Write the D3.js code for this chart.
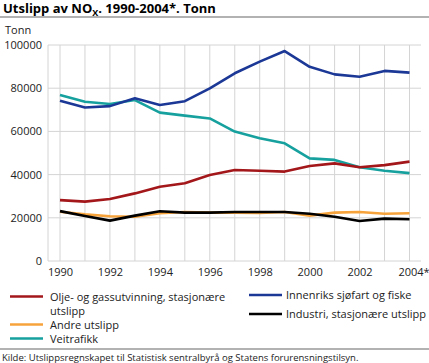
<!DOCTYPE html>
<html><head><meta charset="utf-8">
<script src="https://cdn.jsdelivr.net/npm/d3@7"></script>
<style>body{margin:0;background:#fff}svg{display:block;font-family:"Open Sans",sans-serif}</style>
</head><body><svg id="c" width="429" height="363"></svg>
<script>
const years = [1990,1991,1992,1993,1994,1995,1996,1997,1998,1999,2000,2001,2002,2003,2004];
const xTickLabels = ["1990","1992","1994","1996","1998","2000","2002","2004*"];
const yTicks = [0,20000,40000,60000,80000,100000];
const olje = [28200,27500,28700,31300,34400,36000,39800,42100,41800,41400,44000,45200,43400,44400,46000];
const andre = [22800,21600,20700,20500,22100,22700,22400,22400,22200,22700,21000,22400,22700,21900,22100];
const veitrafikk = [76800,73700,72700,74500,68700,67300,66000,59900,56800,54500,47500,46800,43400,41800,40700];
const innenriks = [74200,71100,71700,75300,72200,74000,79900,86900,92300,97200,89900,86400,85300,88000,87200];
const industri = [23100,20800,18700,21000,23000,22400,22400,22700,22700,22700,21900,20500,18500,19600,19300];
const series = [
  {name:"Olje- og gassutvinning, stasjonære utslipp", values:olje, color:"#a3171b"},
  {name:"Andre utslipp", values:andre, color:"#f7a33c"},
  {name:"Veitrafikk", values:veitrafikk, color:"#16a09e"},
  {name:"Innenriks sjøfart og fiske", values:innenriks, color:"#1c3896"},
  {name:"Industri, stasjonære utslipp", values:industri, color:"#000000"}
];
const svg = d3.select("#c");
const x = d3.scaleLinear().domain([1990,2004]).range([60,409.5]);
const y = d3.scaleLinear().domain([0,100000]).range([261,45]);
const L=48, R=421;
// title
const t = svg.append("text").attr("x",3).attr("y",13).attr("font-size",13).attr("font-weight","bold").attr("fill","#000");
t.append("tspan").text("Utslipp av NO");
t.append("tspan").attr("font-size",9).attr("dy",3).text("X");
t.append("tspan").attr("dy",-3).text(". 1990-2004*. Tonn");
svg.append("line").attr("x1",0).attr("x2",429).attr("y1",17).attr("y2",17).attr("stroke","#999").attr("stroke-width",1.5);
svg.append("text").attr("x",5).attr("y",34).attr("font-size",11).attr("fill","#222").text("Tonn");
// grid
const g = svg.append("g");
years.forEach(yr=>g.append("line").attr("x1",x(yr)).attr("x2",x(yr)).attr("y1",y(100000)).attr("y2",y(0)).attr("stroke","#d4d4d4").attr("stroke-width",1));
yTicks.forEach(v=>g.append("line").attr("x1",L).attr("x2",R).attr("y1",y(v)).attr("y2",y(v)).attr("stroke","#d4d4d4").attr("stroke-width",1));
g.append("line").attr("x1",L).attr("x2",L).attr("y1",y(100000)).attr("y2",y(0)).attr("stroke","#d4d4d4");
// y axis labels
const yAxis = d3.axisLeft(y).tickValues(yTicks).tickSize(0).tickPadding(6).tickFormat(d3.format("d"));
const ya = svg.append("g").attr("transform",`translate(${L},0)`).call(yAxis);
ya.select(".domain").remove();
ya.selectAll("text").attr("font-size",11).attr("fill","#222").attr("font-family","'Open Sans',sans-serif");
// x axis labels
const xAxis = d3.axisBottom(x).tickValues(d3.range(1990,2005,2)).tickSize(0).tickPadding(7).tickFormat((d,i)=>xTickLabels[i]);
const xa = svg.append("g").attr("transform",`translate(0,${y(0)})`).call(xAxis);
xa.select(".domain").remove();
xa.selectAll("text").attr("font-size",11).attr("fill","#222").attr("font-family","'Open Sans',sans-serif");
xa.selectAll("text").filter((d,i)=>i===xTickLabels.length-1).attr("dx",4);
// lines
const line = d3.line().x((d,i)=>x(years[i])).y(d=>y(d));
const order = [2,3,0,1,4];
order.forEach(k=>{
  const s=series[k];
  svg.append("path").attr("d",line(s.values)).attr("fill","none").attr("stroke",s.color).attr("stroke-width",2.6).attr("stroke-linejoin","round");
});
// legend
const leg = [
  {s:0,lx:10,ly:296.5,tx:50,lines:["Olje- og gassutvinning, stasjonære","utslipp"]},
  {s:1,lx:10,ly:324.5,tx:50,lines:["Andre utslipp"]},
  {s:2,lx:10,ly:338.5,tx:50,lines:["Veitrafikk"]},
  {s:3,lx:249,ly:295,tx:286,lines:["Innenriks sjøfart og fiske"]},
  {s:4,lx:249,ly:314,tx:286,lines:["Industri, stasjonære utslipp"]}
];
leg.forEach(o=>{
  svg.append("line").attr("x1",o.lx).attr("x2",o.lx+33).attr("y1",o.ly).attr("y2",o.ly).attr("stroke",series[o.s].color).attr("stroke-width",2.6);
  o.lines.forEach((tx,i)=>svg.append("text").attr("x",o.tx).attr("y",o.ly+4+i*14).attr("font-size",11).attr("fill","#222").text(tx));
});
svg.append("line").attr("x1",0).attr("x2",429).attr("y1",349).attr("y2",349).attr("stroke","#999").attr("stroke-width",1.5);
svg.append("text").attr("x",2).attr("y",361).attr("font-size",9.5).attr("fill","#222").text("Kilde: Utslippsregnskapet til Statistisk sentralbyrå og Statens forurensningstilsyn.");
</script></body></html>
